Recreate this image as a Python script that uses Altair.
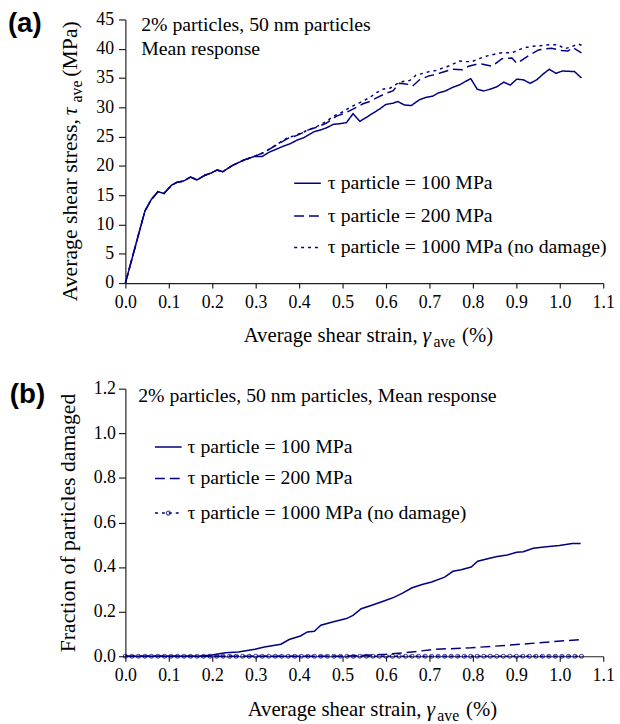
import altair as alt
import pandas as pd

NAVY = "#000080"
SERIF = "Liberation Serif"
SANS = "Liberation Sans"

# ---------------- (a) average shear stress ----------------
shared_strain = [0.0, 0.045, 0.06, 0.075, 0.089, 0.106, 0.119, 0.134, 0.15, 0.165,
                 0.183, 0.198, 0.211, 0.224, 0.247, 0.273, 0.296]
shared_stress = [0.0, 12.3, 14.3, 15.6, 15.3, 16.7, 17.2, 17.4, 18.1, 17.6,
                 18.4, 18.8, 19.3, 19.0, 20.1, 21.0, 21.6]

t100_strain = [0.315, 0.33, 0.349, 0.365, 0.38, 0.395, 0.41, 0.433, 0.448, 0.463,
               0.479, 0.494, 0.509, 0.524, 0.54, 0.555, 0.57, 0.585, 0.60, 0.616,
               0.627, 0.642, 0.658, 0.677, 0.692, 0.707, 0.722, 0.737, 0.753, 0.768,
               0.795, 0.81, 0.825, 0.84, 0.855, 0.871, 0.886, 0.901, 0.916, 0.932,
               0.947, 0.962, 0.976, 0.991, 1.006, 1.034, 1.05]
t100_stress = [21.6, 22.3, 22.9, 23.4, 23.8, 24.4, 24.8, 25.8, 26.1, 26.5,
               27.1, 27.2, 27.4, 28.9, 27.6, 28.3, 29.0, 29.7, 30.5, 30.7,
               31.0, 30.4, 30.3, 31.3, 31.7, 31.9, 32.5, 32.8, 33.4, 33.8,
               34.9, 33.1, 32.8, 33.1, 33.5, 34.3, 33.8, 34.8, 34.7, 34.1,
               34.7, 35.7, 36.5, 35.8, 36.2, 36.1, 35.0]

t200_strain = [0.319, 0.349, 0.374, 0.395, 0.42, 0.44, 0.463, 0.486, 0.505, 0.524,
               0.547, 0.563, 0.578, 0.60, 0.616, 0.631, 0.646, 0.661, 0.677, 0.70,
               0.715, 0.73, 0.753, 0.776, 0.79, 0.806, 0.82, 0.844, 0.867, 0.89,
               0.901, 0.928, 0.951, 0.981, 1.004, 1.019, 1.03, 1.05]
t200_stress = [22.3, 23.6, 24.7, 25.2, 26.1, 26.6, 27.3, 28.5, 29.0, 29.7,
               30.6, 31.0, 31.6, 32.4, 32.8, 34.1, 34.0, 33.6, 34.7, 35.4,
               35.6, 36.0, 36.5, 36.4, 37.0, 37.3, 37.4, 37.0, 38.3, 38.4,
               37.5, 38.8, 39.8, 40.1, 39.7, 39.6, 40.2, 39.3]

t1000_strain = [0.319, 0.349, 0.374, 0.395, 0.42, 0.44, 0.463, 0.479, 0.50, 0.517,
                0.54, 0.563, 0.578, 0.593, 0.61, 0.625, 0.639, 0.655, 0.669, 0.685,
                0.70, 0.715, 0.73, 0.75, 0.768, 0.783, 0.798, 0.814, 0.829, 0.852,
                0.867, 0.89, 0.905, 0.92, 0.935, 0.951, 0.966, 0.981, 0.996, 1.011,
                1.026, 1.042, 1.05]
t1000_stress = [22.3, 23.7, 24.8, 25.3, 26.1, 26.7, 27.6, 28.5, 29.2, 30.0,
                30.8, 31.7, 32.5, 33.1, 33.3, 34.0, 34.4, 34.6, 35.5, 35.8,
                36.1, 36.3, 36.7, 37.2, 37.9, 37.8, 37.8, 38.3, 38.7, 39.1,
                39.3, 39.3, 39.8, 40.2, 40.4, 40.5, 40.6, 40.7, 40.7, 40.0,
                40.3, 40.8, 40.6]

# ---------------- (b) fraction of particles damaged ----------------
d100_strain = [0.0, 0.17, 0.2, 0.23, 0.26, 0.298, 0.32, 0.358, 0.377, 0.403,
               0.419, 0.435, 0.45, 0.479, 0.509, 0.524, 0.543, 0.569, 0.60, 0.618,
               0.637, 0.66, 0.683, 0.705, 0.735, 0.754, 0.773, 0.796, 0.811, 0.841,
               0.856, 0.879, 0.901, 0.916, 0.939, 0.969, 0.999, 1.029, 1.048]
d100_frac = [0.0, 0.0, 0.006, 0.016, 0.019, 0.031, 0.041, 0.054, 0.075, 0.091,
             0.109, 0.112, 0.139, 0.155, 0.169, 0.183, 0.213, 0.23, 0.251, 0.264,
             0.282, 0.307, 0.322, 0.333, 0.355, 0.381, 0.388, 0.40, 0.426, 0.441,
             0.447, 0.454, 0.466, 0.469, 0.484, 0.491, 0.497, 0.506, 0.506]

d200_strain = [0.0, 0.5, 0.55, 0.6, 0.645, 0.713, 0.796, 0.879, 0.969, 1.048]
d200_frac = [0.0, 0.0, 0.004, 0.009, 0.016, 0.031, 0.038, 0.049, 0.063, 0.075]

d1000_strain = [0.0, 0.015, 0.03, 0.045, 0.06, 0.075, 0.09, 0.105, 0.12, 0.135,
                0.15, 0.165, 0.18, 0.195, 0.21, 0.225, 0.24, 0.255, 0.27, 0.285,
                0.3, 0.315, 0.33, 0.345, 0.36, 0.375, 0.39, 0.405, 0.42, 0.435,
                0.45, 0.465, 0.48, 0.495, 0.51, 0.525, 0.54, 0.555, 0.57, 0.585,
                0.6, 0.615, 0.63, 0.645, 0.66, 0.675, 0.69, 0.705, 0.72, 0.735,
                0.75, 0.765, 0.78, 0.795, 0.81, 0.825, 0.84, 0.855, 0.87, 0.885,
                0.9, 0.915, 0.93, 0.945, 0.96, 0.975, 0.99, 1.005, 1.02, 1.035, 1.05]
d1000_frac = [0.0] * len(d1000_strain)

x_ticks = [0.0, 0.1, 0.2, 0.3, 0.4, 0.5, 0.6, 0.7, 0.8, 0.9, 1.0, 1.1]
ya_ticks = [0, 5, 10, 15, 20, 25, 30, 35, 40, 45]
yb_ticks = [0.0, 0.2, 0.4, 0.6, 0.8, 1.0, 1.2]

legend_labels = ["\u03c4 particle = 100 MPa", "\u03c4 particle = 200 MPa",
                 "\u03c4 particle = 1000 MPa (no damage)"]

W = 484
HA = 267
HB = 271
AXC = "#222222"
DASHES = [[1, 0], [10, 5], [3, 4]]


def one(t):
    return pd.DataFrame({"t": [t]})


def xenc():
    return alt.X("x:Q", scale=alt.Scale(domain=[0, 1.1], nice=False, zero=False),
                 axis=alt.Axis(values=x_ticks, format=".1f", title=None, grid=False,
                               tickSize=5, labelPadding=6, labelFlush=False))


def txt(t, x, y, size=20, align="left", baseline="alphabetic", font=SERIF,
        bold=False, italic=False, angle=0):
    kw = dict(align=align, baseline=baseline, font=font, fontSize=size, color="black")
    if bold:
        kw["fontWeight"] = "bold"
    if italic:
        kw["fontStyle"] = "italic"
    if angle:
        kw["angle"] = angle
    return alt.Chart(one(t)).mark_text(**kw).encode(
        x=alt.value(x), y=alt.value(y), text="t:N")


def x_title(x_gamma, y):
    return [
        txt("Average shear strain,", x_gamma - 5, y, size=21, align="right"),
        txt("\u03b3", x_gamma, y, size=22, italic=True),
        txt("ave", x_gamma + 11, y + 5, size=16),
        txt("(%)", x_gamma + 40, y, size=21),
    ]


def legend_rows(x0, x1, xt, ys, third_marker=False):
    layers = []
    for i, (lab, yy) in enumerate(zip(legend_labels, ys)):
        layers.append(alt.Chart(one(lab)).mark_rule(
            color=NAVY, strokeWidth=1.5, strokeDash=DASHES[i]
        ).encode(x=alt.value(x0), x2=alt.value(x1), y=alt.value(yy)))
        layers.append(txt(lab, xt, yy, size=20, baseline="middle"))
    if third_marker:
        layers.append(alt.Chart(one("o")).mark_point(
            shape="circle", size=16, color=NAVY, filled=False, strokeWidth=1.2
        ).encode(x=alt.value((x0 + x1) / 2), y=alt.value(ys[2])))
    return layers


# ---------- panel (a) ----------
ya = alt.Y("y:Q", scale=alt.Scale(domain=[0, 45], nice=False),
           axis=alt.Axis(values=ya_ticks, title=None, grid=False, tickSize=7,
                         labelPadding=5, labelFlush=False))

a_series = [
    (shared_strain + t1000_strain, shared_stress + t1000_stress, DASHES[2]),
    (shared_strain + t200_strain, shared_stress + t200_stress, DASHES[1]),
    (shared_strain + t100_strain, shared_stress + t100_stress, DASHES[0]),
]
a_layers = []
for xs, ys, dash in a_series:
    a_layers.append(alt.Chart(pd.DataFrame({"x": xs, "y": ys})).mark_line(
        color=NAVY, strokeWidth=1.5, strokeDash=dash).encode(x=xenc(), y=ya))

a_layers += [
    txt("2% particles, 50 nm particles", 16, 12),
    txt("Mean response", 16, 36),
]
a_layers += legend_rows(171, 198, 205, [166, 199, 231])
a_layers += x_title(301, HA + 60)
# rotated y title
a_layers += [
    txt("Average shear stress,", -49, 101, size=22, align="right", angle=270),
    txt("\u03c4", -49, 97, size=22, align="left", angle=270, italic=True),
    txt("ave", -44, 84, size=16, align="left", angle=270),
    txt("(MPa)", -49, 58, size=22, align="left", angle=270),
]
a_layers.append(txt("(a)", -119, 5, size=28, font=SANS, bold=True, baseline="middle"))

panel_a = alt.layer(*a_layers).properties(width=W, height=HA)

# ---------- panel (b) ----------
yb = alt.Y("y:Q", scale=alt.Scale(domain=[0, 1.2], nice=False),
           axis=alt.Axis(values=yb_ticks, format=".1f", title="Fraction of particles damaged",
                         grid=False, tickSize=7, labelPadding=3, labelFlush=False,
                         titlePadding=14, titleFontSize=22))

b_layers = [
    alt.Chart(pd.DataFrame({"x": d1000_strain, "y": d1000_frac})).mark_line(
        color=NAVY, strokeWidth=1.5, strokeDash=DASHES[2]).encode(x=xenc(), y=yb),
    alt.Chart(pd.DataFrame({"x": d1000_strain, "y": d1000_frac})).mark_point(
        shape="circle", size=16, color=NAVY, filled=False, strokeWidth=1.2
    ).encode(x=xenc(), y=yb),
    alt.Chart(pd.DataFrame({"x": d200_strain, "y": d200_frac})).mark_line(
        color=NAVY, strokeWidth=1.5, strokeDash=DASHES[1]).encode(x=xenc(), y=yb),
    alt.Chart(pd.DataFrame({"x": d100_strain, "y": d100_frac})).mark_line(
        color=NAVY, strokeWidth=1.5).encode(x=xenc(), y=yb),
]
b_layers.append(txt("2% particles, 50 nm particles, Mean response", 13, 13))
b_layers += legend_rows(30, 57, 63, [59, 91, 126], third_marker=True)
b_layers += x_title(305, HB + 61)
b_layers.append(txt("(b)", -117, 6, size=28, font=SANS, bold=True, baseline="middle"))

panel_b = alt.layer(*b_layers).properties(width=W, height=HB)

chart = alt.vconcat(panel_a, panel_b, spacing=30).properties(
    padding={"left": 8, "top": 6, "right": 5, "bottom": 0}
).configure(font=SERIF).configure_view(stroke=None).configure_axis(
    labelFont=SERIF, labelFontSize=18, labelColor="black",
    titleFont=SERIF, titleFontSize=21, titleFontWeight="normal", titleColor="black",
    domainColor=AXC, tickColor=AXC, domainWidth=1.2, tickWidth=1.2, grid=False
).configure_text(font=SERIF)

chart.save("out.html", embed_options={"renderer": "svg", "actions": False})
